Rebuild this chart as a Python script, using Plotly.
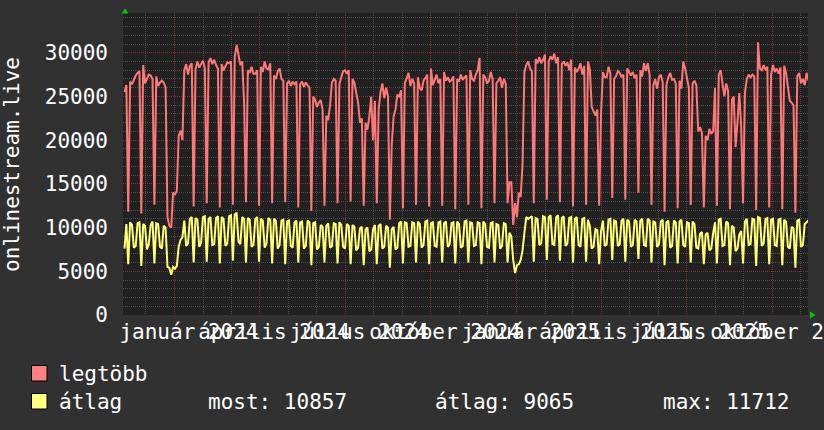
import pandas as pd
import plotly.graph_objects as go

# ---------------- data (2-day consolidated points) ----------------
start_date = "2023-11-08"

legtobb = [
    25500, 26300, 11800, 26700, 26400, 27000, 27400,
    27700, 27900, 11600, 28600, 26500, 27100, 27500,
    27400, 27000, 12600, 27300, 26200, 26600, 26800,
    26600, 26000, 11200, 10200, 10000, 14000, 13800,
    14200, 20500, 21100, 20000, 28000, 28700, 27500,
    28500, 28800, 12400, 28100, 29000, 28300, 28700,
    29100, 28200, 12800, 28900, 29400, 28700, 29200,
    28600, 28200, 12300, 28700, 28000, 28400, 28900,
    28800, 29000, 12600, 29500, 30900, 29800, 28600,
    29000, 24300, 12900, 28000, 27700, 28400, 27600,
    27600, 28000, 12500, 28400, 27800, 29000, 28200,
    28100, 28800, 12800, 27400, 27000, 27900, 28200,
    27000, 26800, 12900, 26500, 26800, 26200, 26700,
    26400, 26700, 12300, 26400, 26700, 26100, 26600,
    26300, 26000, 11900, 25000, 24600, 23800, 24300,
    24600, 23500, 12500, 22800, 22300, 24000, 26600,
    27000, 26800, 12800, 26400, 27200, 27900, 28000,
    27600, 28000, 13000, 27000, 26600, 25400, 24300,
    22000, 22500, 12500, 22000, 21200, 22700, 25000,
    20000, 24500, 12800, 23500, 25500, 26500, 24800,
    26000, 25000, 10900, 19500, 22700, 23500, 25200,
    25000, 25700, 12200, 26500, 27000, 27700, 26200,
    27000, 26500, 12600, 27200, 26000, 25700, 26800,
    27100, 27500, 12400, 28200, 26300, 26800, 27500,
    26500, 27000, 12500, 27800, 26800, 27200, 26700,
    26900, 27300, 12100, 27000, 26700, 27500, 26900,
    27200, 27400, 12600, 28000, 27000, 26800, 27500,
    28000, 29400, 12200, 27500, 27200, 26500, 26800,
    27800, 27000, 12800, 26500, 26800, 27200, 26000,
    27000, 26500, 12800, 15200, 15200, 10300, 12800,
    11200, 14000, 13500, 17200, 27800, 28600, 29000,
    28200, 27900, 12800, 29300, 28800, 29500, 28800,
    29200, 29800, 13200, 29000, 29600, 29200, 29900,
    28800, 29500, 12900, 28700, 29000, 28500, 28900,
    28000, 29200, 12400, 28300, 27800, 28200, 28800,
    27500, 28500, 12600, 29000, 28100, 23800, 23200,
    22800, 23500, 12500, 23000, 27800, 27200, 27200,
    28400, 27600, 13400, 27000, 27300, 27900, 27700,
    27200, 27500, 13200, 28200, 27800, 27400, 27800,
    27100, 27500, 14000, 28000, 27300, 28800, 27900,
    28800, 27500, 12600, 26300, 27000, 25900, 27200,
    27500, 26600, 11800, 26300, 27200, 27700, 26900,
    27000, 26500, 12200, 26800, 25900, 29000, 28200,
    27000, 26000, 12600, 26500, 26800, 26300, 21000,
    21500, 20800, 12300, 20500, 20000, 21300, 20800,
    21000, 26000, 12500, 27500, 28000, 26700, 25000,
    26500, 25600, 12100, 24600, 25000, 19200, 22000,
    25400, 21500, 12800, 25400, 27000, 27500, 27200,
    27500, 27300, 12000, 31200, 28200, 28000, 28600,
    28000, 28400, 12300, 27500, 28600, 27800, 28200,
    27600, 28300, 12100, 28500, 27700, 26000, 24500,
    24300, 24000, 11700, 27300, 27700, 26500, 27000,
    26300, 27700, 26800,
]

atlag = [
    7600, 10400, 5800, 10600, 10300, 7700, 7900,
    10500, 10600, 5600, 10400, 10200, 7500, 8100,
    10300, 10700, 5900, 10500, 10400, 7800, 7600,
    10200, 10000, 5500, 5400, 4600, 5500, 5300,
    5600, 7800, 8600, 8900, 10800, 7900, 8200,
    11000, 11200, 6000, 11100, 10900, 7800, 8300,
    11200, 11300, 6100, 11000, 11200, 8000, 8100,
    11100, 11300, 5900, 11200, 11000, 7900, 8200,
    11300, 11400, 6200, 11500, 11712, 8400, 8100,
    11200, 11000, 6000, 11100, 10900, 7800, 8000,
    11000, 11200, 6100, 11000, 10800, 7700, 8200,
    11100, 10900, 5900, 11000, 10800, 7600, 8000,
    10800, 10900, 5800, 10700, 10800, 7900, 7700,
    10600, 10800, 6000, 10600, 10700, 7600, 7900,
    10800, 10600, 5700, 10500, 10600, 7500, 7800,
    10300, 10100, 6000, 10200, 10500, 7700, 7900,
    10500, 10400, 5900, 10600, 10300, 7800, 7600,
    10400, 10200, 5800, 10300, 10100, 7400, 7700,
    9900, 10100, 5700, 9800, 10000, 7300, 7500,
    9800, 10300, 5800, 10200, 10400, 7600, 7800,
    10200, 10000, 5400, 9800, 10100, 7500, 7700,
    10500, 10700, 5900, 10600, 10500, 7800, 7900,
    10600, 10500, 6000, 10700, 10400, 7700, 8000,
    10700, 10800, 5800, 10500, 10600, 7900, 7800,
    10600, 10700, 6000, 10500, 10700, 7800, 8100,
    10500, 10600, 5900, 10700, 10400, 7700, 7900,
    10700, 10800, 6000, 10600, 10500, 7900, 8000,
    10600, 10500, 5800, 10700, 10400, 7800, 7700,
    10500, 10600, 6000, 10400, 10300, 7600, 7900,
    10500, 10400, 6000, 9400, 9000, 6300, 4800,
    5700, 5800, 6300, 7400, 9400, 11200, 11000,
    11200, 11300, 6100, 11100, 11000, 8000, 8200,
    11300, 11200, 6300, 11200, 11400, 8100, 8000,
    11200, 11400, 6200, 11100, 11300, 7900, 8200,
    11100, 11200, 6000, 11000, 11200, 8000, 7800,
    11000, 11100, 6100, 10900, 10200, 7600, 7800,
    9800, 9700, 5800, 9600, 10800, 7900, 8100,
    10900, 11000, 6300, 10800, 10700, 7900, 8100,
    10800, 11000, 6100, 10900, 10700, 7800, 8000,
    10900, 10700, 6400, 10800, 11000, 8000, 7900,
    11000, 10800, 6000, 10700, 10600, 7800, 8100,
    10700, 10900, 5700, 10600, 10800, 7700, 7900,
    10800, 10600, 5900, 10700, 10900, 8000, 7800,
    10600, 10500, 6000, 10700, 10400, 7700, 7600,
    9300, 9500, 5800, 9200, 9400, 7400, 7600,
    9400, 10600, 5900, 10900, 11000, 7900, 8000,
    10700, 10500, 5700, 10200, 10000, 7300, 7600,
    9200, 9600, 5900, 10700, 11000, 8000, 8100,
    11000, 10900, 5600, 11200, 11100, 7900, 8200,
    11000, 11100, 5800, 10900, 11000, 8000, 7900,
    10900, 11000, 5700, 10900, 10700, 7800, 7600,
    10100, 9900, 5400, 10800, 10900, 7800, 8000,
    10400, 10600, 10857,
]

tick_dates = ["2024-01-16", "2024-04-16", "2024-07-16", "2024-10-16",
              "2025-01-16", "2025-04-16", "2025-07-16", "2025-10-16"]
tick_labels = ["január 2024", "április 2024", "július 2024", "október 2024",
               "január 2025", "április 2025", "július 2025", "október 2025"]
y_ticks = [0, 5000, 10000, 15000, 20000, 25000, 30000]
y_tick_labels = ["0", "5000", "10000", "15000", "20000", "25000", "30000"]

legend_names = ["legtöbb", "átlag"]
stat_texts = ["most: 10857", "átlag: 9065", "max: 11712"]
y_title = "onlinestream.live"

# ---------------- figure ----------------
dates = pd.date_range(start_date, periods=len(legtobb), freq="2D")
x_range = ["2023-11-06 09:36", "2025-11-08 12:00"]

FONT = "DejaVu Sans Mono"
FS = 21
RED = "#ff7878"
YEL = "#ffff78"
PAPER = "#313131"
PLOT = "#212121"
MINOR = "#4e4e4e"
MAJOR = "#7a3434"

W, H = 824, 430
L, R, T, B = 123, 16, 13, 115
PW, PH = W - L - R, H - T - B


def px(X):
    return (X - L) / PW


def py(Y):
    return (H - B - Y) / PH


fig = go.Figure()
fig.add_trace(go.Scatter(x=dates, y=legtobb, mode="lines",
                         line=dict(color=RED, width=2), name=legend_names[0],
                         showlegend=False))
fig.add_trace(go.Scatter(x=dates, y=atlag, mode="lines",
                         line=dict(color=YEL, width=2), name=legend_names[1],
                         showlegend=False))
fig.add_trace(go.Scatter(x=[], y=[], xaxis="x2", showlegend=False, hoverinfo="skip"))

fig.update_layout(
    template="none",
    width=W, height=H,
    margin=dict(l=L, r=R, t=T, b=B, pad=0, autoexpand=False),
    paper_bgcolor=PAPER, plot_bgcolor=PLOT,
    font=dict(family=FONT, size=FS, color="#ffffff"),
    showlegend=False,
    xaxis=dict(
        type="date", range=x_range, showticklabels=False, ticks="",
        tick0="2024-01-01", dtick="M3", automargin=False,
        showgrid=True, gridcolor=MAJOR, griddash="1px,1px", gridwidth=1,
        minor=dict(tick0="2023-12-01", dtick="M1", showgrid=True,
                   gridcolor=MINOR, griddash="1px,1px", gridwidth=1),
        zeroline=False, showline=False, layer="below traces",
    ),
    xaxis2=dict(
        type="date", range=x_range, overlaying="x", anchor="y", side="bottom",
        tickmode="array", tickvals=tick_dates, ticktext=tick_labels,
        tickangle=0, ticklabeloverflow="allow", showgrid=False, ticks="",
        ticklabelstandoff=2, automargin=False,
        tickfont=dict(family=FONT, size=FS, color="#ffffff"),
        zeroline=False, showline=False,
    ),
    yaxis=dict(
        range=[0, 34550], tickmode="array", tickvals=y_ticks,
        ticktext=y_tick_labels, automargin=False,
        showgrid=True, gridcolor=MAJOR, griddash="1px,1px", gridwidth=1,
        minor=dict(dtick=1000, showgrid=True, gridcolor=MINOR,
                   griddash="1px,1px", gridwidth=1),
        ticks="", ticklabelstandoff=14, zeroline=False, showline=False,
        tickfont=dict(family=FONT, size=FS, color="#ffffff"),
        layer="below traces",
    ),
)

# y-axis title
fig.add_annotation(text=y_title, xref="paper", yref="paper",
                   x=px(12), y=0.5, xanchor="center", yanchor="middle",
                   textangle=-90, showarrow=False,
                   font=dict(family=FONT, size=FS, color="#ffffff"))

# green arrows (axis ends)
fig.add_shape(type="path", xref="paper", yref="paper",
              path=f"M{px(121.5)},{py(13.5)} L{px(128.5)},{py(13.5)} L{px(125)},{py(8.5)} Z",
              fillcolor="#00cc00", line=dict(width=0))
fig.add_shape(type="path", xref="paper", yref="paper",
              path=f"M{px(810)},{py(311.5)} L{px(810)},{py(318.5)} L{px(815.5)},{py(315)} Z",
              fillcolor="#00cc00", line=dict(width=0))

# legend boxes
legend_colors = ["#ff8080", "#ffff80"]
rows_top = [365.5, 393.5]
for c, t in zip(legend_colors, rows_top):
    fig.add_shape(type="rect", xref="paper", yref="paper",
                  x0=px(31.5), x1=px(47), y0=py(t), y1=py(t + 15.5),
                  fillcolor=c, line=dict(color="#000000", width=1))

row_mid = [373.5, 401.5]
fig.add_annotation(text=legend_names[0], xref="paper", yref="paper",
                   x=px(57), y=py(row_mid[0]), xanchor="left", yanchor="middle",
                   showarrow=False, font=dict(family=FONT, size=FS, color="#ffffff"))
fig.add_annotation(text=legend_names[1], xref="paper", yref="paper",
                   x=px(57), y=py(row_mid[1]), xanchor="left", yanchor="middle",
                   showarrow=False, font=dict(family=FONT, size=FS, color="#ffffff"))
for txt, X in zip(stat_texts, [206, 433, 661]):
    fig.add_annotation(text=txt, xref="paper", yref="paper",
                       x=px(X), y=py(row_mid[1]), xanchor="left", yanchor="middle",
                       showarrow=False, font=dict(family=FONT, size=FS, color="#ffffff"))

fig.write_html(
    "out.html",
    config={"displayModeBar": False},
    post_script="document.body.style.margin='0';"
                "document.body.style.background='" + PAPER + "';",
)
